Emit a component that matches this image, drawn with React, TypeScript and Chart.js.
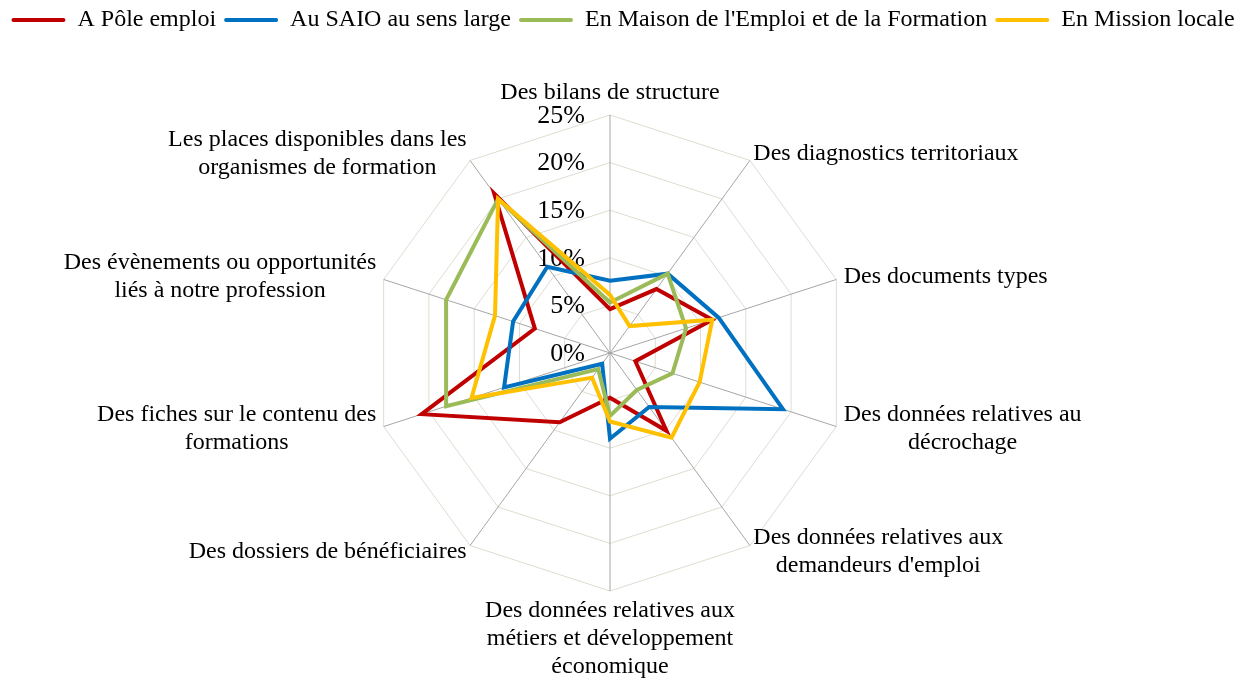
import React, { useEffect, useRef } from 'react';
import { Chart, registerables } from 'chart.js';
Chart.register(...registerables);

const CATEGORIES: string[][] = [
  ['Des bilans de structure'],
  ['Des diagnostics territoriaux'],
  ['Des documents types'],
  ['Des données relatives au', 'décrochage'],
  ['Des données relatives aux', "demandeurs d'emploi"],
  ['Des données relatives aux', 'métiers et développement', 'économique'],
  ['Des dossiers de bénéficiaires'],
  ['Des fiches sur le contenu des', 'formations'],
  ['Des évènements ou opportunités', 'liés à notre profession'],
  ['Les places disponibles dans les', 'organismes de formation'],
];

const SERIES_NAMES = [
  'A Pôle emploi',
  'Au SAIO au sens large',
  "En Maison de l'Emploi et de la Formation",
  'En Mission locale',
];

const POLE_EMPLOI = [4.6, 8.3, 11.3, 2.8, 10.1, 4.7, 9.0, 20.8, 8.3, 20.7];
const SAIO = [7.6, 10.3, 12.0, 19.1, 7.0, 9.0, 1.4, 11.7, 10.7, 11.2];
const MAISON_EMPLOI = [5.3, 10.3, 8.4, 6.9, 4.8, 6.6, 2.1, 18.1, 18.1, 20.0];
const MISSION_LOCALE = [6.1, 3.5, 11.3, 9.9, 11.0, 7.2, 3.2, 15.3, 12.7, 20.0];

const TICK_VALUES = [0, 5, 10, 15, 20, 25];
const TICK_LABELS = ['0%', '5%', '10%', '15%', '20%', '25%'];

const COLORS = ['#C00000', '#0070C0', '#9BBB59', '#FFC000'];
const FONT = "'Liberation Serif', 'Times New Roman', serif";

export default function App() {
  const ref = useRef<HTMLCanvasElement>(null);

  useEffect(() => {
    document.body.style.margin = '0';
    const canvas = ref.current;
    if (!canvas) return;

    const tickPlugin = {
      id: 'tickLabelsCustom',
      beforeDatasetsDraw(chart: any) {
        const scale = chart.scales.r;
        const ctx = chart.ctx;
        ctx.save();
        ctx.font = `26px ${FONT}`;
        ctx.fillStyle = '#000';
        ctx.textAlign = 'right';
        ctx.textBaseline = 'middle';
        TICK_VALUES.forEach((v, i) => {
          const d = scale.getDistanceFromCenterForValue(v);
          ctx.fillText(TICK_LABELS[i], scale.xCenter - 25, scale.yCenter - d + 1);
        });
        ctx.restore();
      },
    };

    const pointLabelPlugin = {
      id: 'pointLabelsCustom',
      afterDraw(chart: any) {
        const scale = chart.scales.r;
        const ctx = chart.ctx;
        ctx.save();
        ctx.font = `24px ${FONT}`;
        ctx.fillStyle = '#000';
        ctx.textBaseline = 'middle';
        ctx.textAlign = 'center';
        const lh = 28;
        CATEGORIES.forEach((lines, i) => {
          const p = scale.getPointPosition(i, scale.drawingArea);
          const angleDeg = (i * 360) / CATEGORIES.length;
          const w = Math.max(...lines.map((l) => ctx.measureText(l).width));
          const n = lines.length;
          let cx: number;
          let firstY: number;
          if (angleDeg === 0) {
            cx = p.x;
            firstY = p.y - 22 - (n - 1) * lh;
          } else if (angleDeg === 180) {
            cx = p.x;
            firstY = p.y + 20;
          } else {
            const rad = (angleDeg * Math.PI) / 180;
            const s = Math.sin(rad);
            const gap = 1 + 7 * s * s;
            cx = s > 0 ? p.x + gap + w / 2 : p.x - gap - w / 2;
            const centerY = p.y - Math.cos(rad) * 8;
            firstY = centerY - ((n - 1) * lh) / 2;
          }
          lines.forEach((l, k) => ctx.fillText(l, cx, firstY + k * lh));
        });
        ctx.restore();
      },
    };

    const seriesData = [POLE_EMPLOI, SAIO, MAISON_EMPLOI, MISSION_LOCALE];

    const chart = new Chart(canvas, {
      type: 'radar',
      data: {
        labels: CATEGORIES.map((c) => c.join(' ')),
        datasets: seriesData.map((d, i) => ({
          label: SERIES_NAMES[i],
          data: d,
          borderColor: COLORS[i],
          backgroundColor: COLORS[i],
          borderWidth: 4,
          fill: false,
          pointRadius: 0,
          order: seriesData.length - i,
        })),
      },
      options: {
        responsive: false,
        animation: false,
        layout: { padding: 0 },
        plugins: {
          tooltip: { enabled: false },
          legend: {
            position: 'top',
            labels: {
              font: { family: FONT, size: 24 },
              color: '#000',
              boxWidth: 54,
              boxHeight: 4,
              padding: 8,
              useBorderRadius: true,
              borderRadius: 2,
              sort: (a: any, b: any) => a.datasetIndex - b.datasetIndex,
              generateLabels: (c: any) =>
                (Chart.defaults.plugins.legend.labels as any)
                  .generateLabels(c)
                  .map((l: any) => ({ ...l, lineWidth: 0, borderRadius: 2 })),
            },
          },
        },
        scales: {
          r: {
            min: 0,
            max: 25,
            ticks: { stepSize: 5, display: false },
            grid: { color: '#dedcd0', lineWidth: 1 },
            angleLines: { color: '#a6a6a6', lineWidth: 1 },
            pointLabels: { display: false },
            afterFit: (s: any) => {
              s.xCenter = 610;
              s.yCenter = 353;
              s.drawingArea = 238;
            },
          },
        },
      } as any,
      plugins: [tickPlugin, pointLabelPlugin],
    });

    return () => chart.destroy();
  }, []);

  return (
    <div style={{ width: 1246, height: 681 }}>
      <canvas ref={ref} width={1246} height={681} style={{ display: 'block' }} />
    </div>
  );
}
